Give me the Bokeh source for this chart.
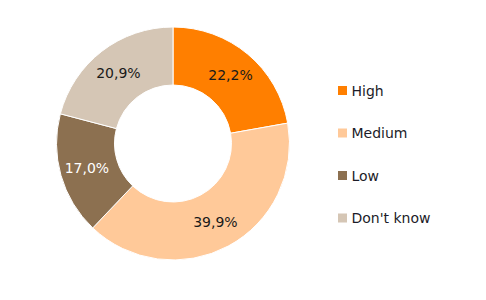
import math
from bokeh.plotting import figure
from bokeh.models import Range1d, ColumnDataSource
from bokeh.core.properties import value
from bokeh.embed import file_html
from bokeh.resources import INLINE

categories = ["High", "Medium", "Low", "Don't know"]
shares = [22.2, 39.9, 17.0, 20.9]
labels = ["22,2%", "39,9%", "17,0%", "20,9%"]
colors = ["#FF7F00", "#FFC999", "#8C7050", "#D5C6B5"]
label_colors = ["#1a1a1a", "#1a1a1a", "#ffffff", "#1a1a1a"]

W, H = 486, 300
cx, cy = 172.5, H - 143
r_out, r_in = 116.5, 58.5

p = figure(width=W, height=H, output_backend="svg", toolbar_location=None,
           x_range=Range1d(0, W), y_range=Range1d(0, H), min_border=0)
p.axis.visible = False
p.grid.visible = False
p.outline_line_color = None
p.background_fill_color = "white"

total = sum(shares)
starts, ends, lx, ly = [], [], [], []
acc = 0.0
for s in shares:
    a0 = math.pi / 2 - 2 * math.pi * acc / total
    a1 = math.pi / 2 - 2 * math.pi * (acc + s) / total
    starts.append(a0)
    ends.append(a1)
    mid = (a0 + a1) / 2
    rm = (r_out + r_in) / 2 + 2
    lx.append(cx + rm * math.cos(mid))
    ly.append(cy + rm * math.sin(mid))
    acc += s

src = ColumnDataSource(dict(start=starts, end=ends, color=colors, lx=lx, ly=ly,
                            label=labels, lc=label_colors))
p.annular_wedge(x=cx, y=cy, inner_radius=r_in, outer_radius=r_out,
                start_angle="start", end_angle="end", direction="clock",
                fill_color="color", line_color="white", line_width=1, source=src)
p.text(x="lx", y="ly", text="label", text_color="lc", text_align="center",
       text_baseline="middle", text_font=value("DejaVu Sans"), text_font_size="14px",
       source=src)

# legend
lg_x = [342] * len(categories)
lg_y = [H - (90 + 42.5 * i) for i in range(len(categories))]
lsrc = ColumnDataSource(dict(x=lg_x, y=lg_y, tx=[x + 9 for x in lg_x], c=colors, t=categories))
p.rect(x="x", y="y", width=9, height=9, fill_color="c", line_color=None, source=lsrc)
p.text(x="tx", y="y", text="t", text_color="#1c1c28", text_align="left",
       text_baseline="middle", text_font=value("DejaVu Sans"), text_font_size="14px",
       source=lsrc)

open("out.html", "w").write(file_html(p, INLINE))
